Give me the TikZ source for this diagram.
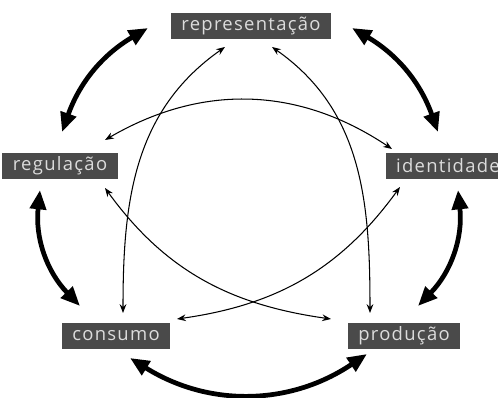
\documentclass[tikz,border=0pt]{standalone}
\usepackage{fontspec}
\setmainfont{Open Sans}
\newfontfamily\boxfont[LetterSpace=7]{Open Sans}
\usetikzlibrary{arrows.meta}
\definecolor{boxgray}{RGB}{74,74,74}
\definecolor{labelgray}{RGB}{220,220,220}

\begin{document}
\begin{tikzpicture}[x=0.02cm,y=-0.02cm,
    box/.style={fill=boxgray,text=labelgray,font=\boxfont\fontsize{10.5}{12}\selectfont,inner xsep=6pt,inner ysep=0pt,minimum height=14.5pt},
    cyc/.style={line width=2.7pt,{Triangle[length=11pt,width=9pt]}-{Triangle[length=11pt,width=9pt]}},
    lnk/.style={line width=0.6pt,{Stealth[length=5pt,width=3.8pt]}-{Stealth[length=5pt,width=3.8pt]}}]
   \useasboundingbox (0,0) rectangle (498,398);
   \node[box] (rep) at (251,26)  {representação};
   \node[box] (reg) at (60,166)  {regulação};
   \node[box] (ide) at (448,166) {identidade};
   \node[box] (con) at (116,336) {consumo};
   \node[box] (pro) at (404,336) {produção};
   % ends of the outer arrows
   \coordinate (a1) at (148,28);  \coordinate (a2) at (62,132);
   \coordinate (b1) at (352,28);  \coordinate (b2) at (438,132);
   \coordinate (c1) at (40,190);  \coordinate (c2) at (80,306);
   \coordinate (d1) at (458,190); \coordinate (d2) at (418,306);
   \coordinate (e1) at (130,358); \coordinate (e2) at (367,354);
   % ends of the inner arrows
   \coordinate (t1a) at (105,140); \coordinate (t1b) at (392,149);
   \coordinate (t2a) at (123,313); \coordinate (t2b) at (225,47);
   \coordinate (t3a) at (370,313); \coordinate (t3b) at (272,47);
   \coordinate (t4a) at (105,188); \coordinate (t4b) at (331,319);
   \coordinate (t5a) at (400,187); \coordinate (t5b) at (177,319);
   \draw[cyc] (a1) to[bend right=20] (a2);
   \draw[cyc] (b1) to[bend left=20] (b2);
   \draw[cyc] (c1) to[bend right=25] (c2);
   \draw[cyc] (d1) to[bend left=25] (d2);
   \draw[cyc] (e1) to[bend right=33] (e2);
   \draw[lnk] (t1a) to[bend left=32] (t1b);
   \draw[lnk] (t2a) to[out=90,in=215] (t2b);
   \draw[lnk] (t3a) to[out=90,in=-35] (t3b);
   \draw[lnk] (t4a) to[out=-54,in=172] (t4b);
   \draw[lnk] (t5a) to[out=234,in=8] (t5b);
\end{tikzpicture}
\end{document}
